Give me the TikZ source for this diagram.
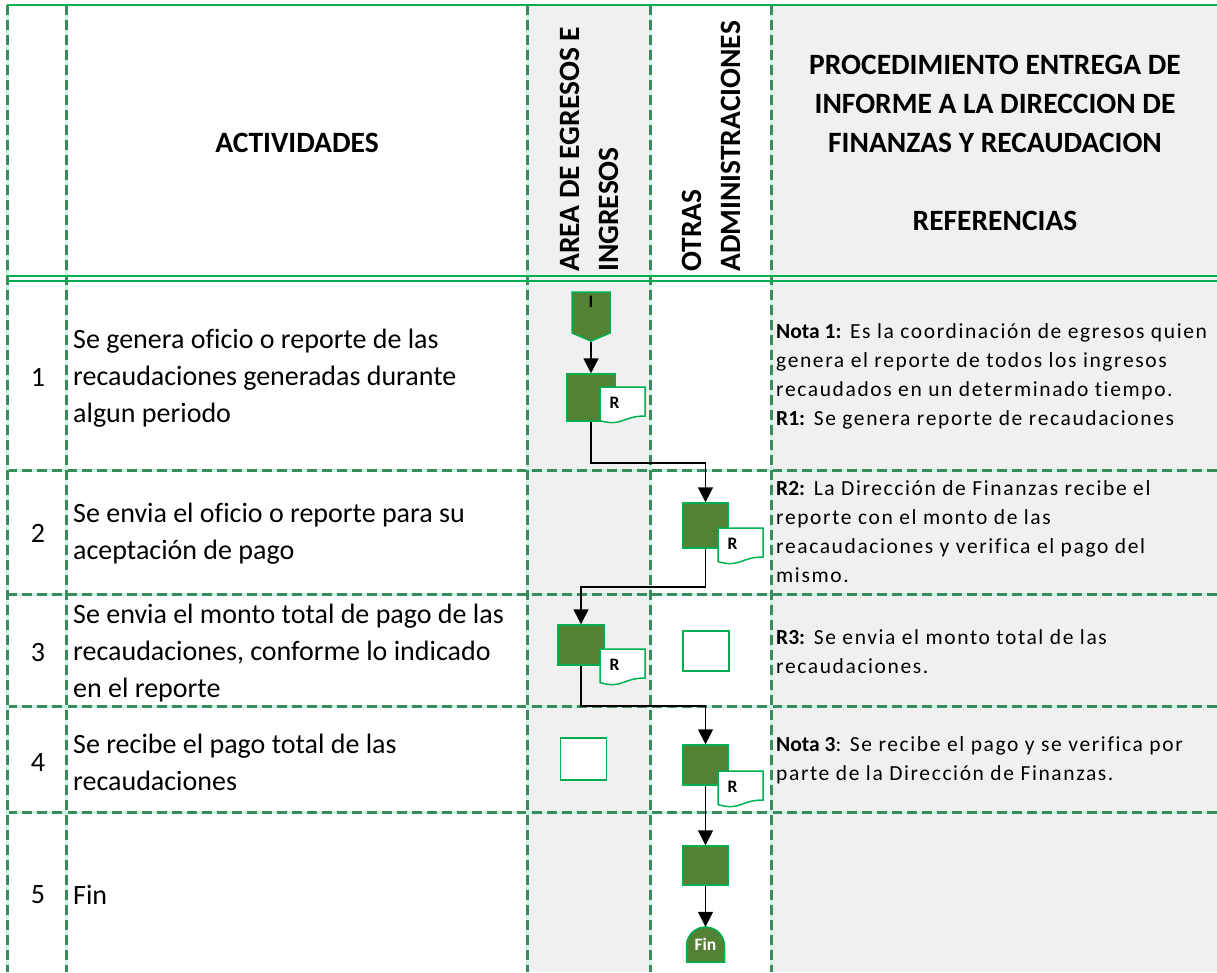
\documentclass[tikz,border=0pt]{standalone}
\usepackage{fontspec}
\setmainfont{Carlito}[Ligatures=NoCommon]
\newfontfamily\notefont[LetterSpace=7.5,Ligatures=NoCommon,BoldFeatures={LetterSpace=0}]{Carlito}
\usetikzlibrary{arrows.meta,shapes.symbols}

\definecolor{procgreen}{HTML}{548235}
\definecolor{edgegreen}{HTML}{00B050}
\definecolor{gridgreen}{HTML}{3A8C5C}
\definecolor{gridmint}{HTML}{C8F7E6}
\definecolor{colgrey}{HTML}{F0F0F0}

\tikzset{
  gridbase/.style={gridmint, line width=3pt},
  gridline/.style={gridgreen, line width=3pt, dash pattern=on 10pt off 5pt},
  headline/.style={edgegreen, line width=2pt},
  proc/.style={draw=edgegreen, fill=procgreen, line width=1.5pt, minimum width=46pt, minimum height=41pt, inner sep=0pt},
  emptybox/.style={draw=edgegreen, fill=white, line width=1.5pt, minimum width=46pt, minimum height=41pt, inner sep=0pt},
  startshape/.style={shape=signal, signal to=south, signal from=nowhere, signal pointer angle=134, draw=edgegreen, fill=procgreen, line width=1.5pt, minimum width=38pt, minimum height=41pt, inner sep=0pt},
  docline/.style={draw=edgegreen, fill=white, line width=1.5pt},
  finline/.style={draw=edgegreen, fill=procgreen, line width=1.5pt},
  flow/.style={-{Triangle[width=15pt,length=15pt]}, line width=1.6pt},
  headtext/.style={font=\bfseries\fontsize{29.5}{39}\selectfont, align=center, inner sep=0pt},
  numtext/.style={font=\fontsize{28}{37}\selectfont, inner sep=0pt},
  actext/.style={anchor=west, align=left, inner sep=0pt, font=\fontsize{28}{37}\selectfont},
  notetext/.style={anchor=west, align=left, inner sep=0pt, font=\notefont\fontsize{21.5}{29}\selectfont},
  tagtext/.style={font=\bfseries\fontsize{17.5}{18}\selectfont, inner sep=0pt}
}

% report sheet with wavy bottom: name, x, y of top left corner
\newcommand{\docsheet}[3]{%
  \begin{scope}[shift={(#2,#3)}]
    \filldraw[docline] (0,0) -- (45,0) -- (45,29) .. controls (22.5,29) and (22.5,40) .. (0,33.6) -- cycle;
    \node[tagtext] (#1) at (14.5,16) {R};
  \end{scope}}

\begin{document}
\begin{tikzpicture}[x=1pt, y=-1pt]
    \useasboundingbox (0,0) rectangle (1217,972);
    %% shaded columns
    \fill[colgrey] (527,5) rectangle (650,972);
    \fill[colgrey] (771,5) rectangle (1217,972);
    %% grid of the table
    \foreach \yy in {470,594,706,812} {
      \draw[gridbase] (7,\yy) -- (1217,\yy);
      \draw[gridline] (7,\yy) -- (1217,\yy);
    }
    \foreach \xx in {7,66,527,650,771} {
      \draw[gridbase] (\xx,5) -- (\xx,972);
      \draw[gridline] (\xx,5) -- (\xx,972);
    }
    \draw[headline] (7,5) -- (1217,5);
    \draw[headline] (7,276) -- (1217,276);
    \draw[headline] (7,280.5) -- (1217,280.5);
    %% header
    \node[headtext] (hact) at (297,143) {ACTIVIDADES};
    \node[headtext, rotate=90, anchor=north west, align=left] (harea) at (560,272) {AREA DE EGRESOS E\\INGRESOS};
    \node[headtext, rotate=90, anchor=north west, align=left] (hotras) at (682,272) {OTRAS\\ADMINISTRACIONES};
    \node[headtext] (href) at (995,142.5) {PROCEDIMIENTO ENTREGA DE\\INFORME A LA DIRECCION DE\\FINANZAS Y RECAUDACION\\[39pt]REFERENCIAS};
    %% activities
    \foreach \nn/\yy in {1/377,2/533,3/652,4/762,5/895}
      \node[numtext] (n\nn) at (38,\yy) {\nn};
    \node[actext] (a1) at (73,378) {Se genera oficio o reporte de las\\recaudaciones generadas durante\\algun periodo};
    \node[actext] (a2) at (73,534) {Se envia el oficio o reporte para su\\aceptación de pago};
    \node[actext] (a3) at (73,653) {Se envia el monto total de pago de las\\recaudaciones, conforme lo indicado\\en el reporte};
    \node[actext] (a4) at (73,762) {Se recibe el pago total de las\\recaudaciones};
    \node[actext] (a5) at (73,895) {Fin};
    %% references
    \node[notetext] (t1) at (776,376.5) {\textbf{Nota 1:} Es la coordinación de egresos quien\\genera el reporte de todos los ingresos\\recaudados en un determinado tiempo.\\\textbf{R1:} Se genera reporte de recaudaciones};
    \node[notetext] (t2) at (776,532) {\textbf{R2:} La Dirección de Finanzas recibe el\\reporte con el monto de las\\reacaudaciones y verifica el pago del\\mismo.};
    \node[notetext] (t3) at (776,651.5) {\textbf{R3:} Se envia el monto total de las\\recaudaciones.};
    \node[notetext] (t4) at (776,760) {\textbf{Nota 3}: Se recibe el pago y se verifica por\\parte de la Dirección de Finanzas.};
    %% flow
    \node[startshape] (ini) at (591,312.5) {};
    \node[tagtext] (ini-l) at (591,302) {I};
    \node[proc, minimum width=49pt, minimum height=47pt] (b1) at (591,397.5) {};
    \node[proc, minimum height=45pt] (b2) at (705.5,525.5) {};
    \node[proc, minimum height=40pt] (b3) at (581,645) {};
    \node[emptybox, minimum height=40pt] (e3) at (706,651) {};
    \node[proc, minimum height=40pt] (b4) at (705.5,765) {};
    \node[emptybox, minimum height=42pt] (e4) at (583.5,759) {};
    \node[proc, minimum height=39pt] (b5) at (705.5,865.5) {};
    \docsheet{r1}{600}{387}
    \docsheet{r2}{718}{528}
    \docsheet{r3}{600}{649}
    \docsheet{r4}{718}{771}
    \filldraw[finline] (686.5,962) -- (686.5,946) arc[start angle=180, end angle=0, radius=19pt] -- (724.5,962) -- cycle;
    \node[tagtext, text=white, minimum width=38pt, minimum height=35pt] (fin) at (705.5,944.5) {Fin};
    \draw[flow] (ini.south) -- (b1.north);
    \draw[flow] (b1.south) -- ++(0,41) -| (b2.north);
    \draw[flow] (b2.south) -- ++(0,38.5) -| (b3.north);
    \draw[flow] (b3.south) -- ++(0,40) -| (b4.north);
    \draw[flow] (b4) -- (b5);
    \draw[flow] (b5) -- (fin);
\end{tikzpicture}
\end{document}
